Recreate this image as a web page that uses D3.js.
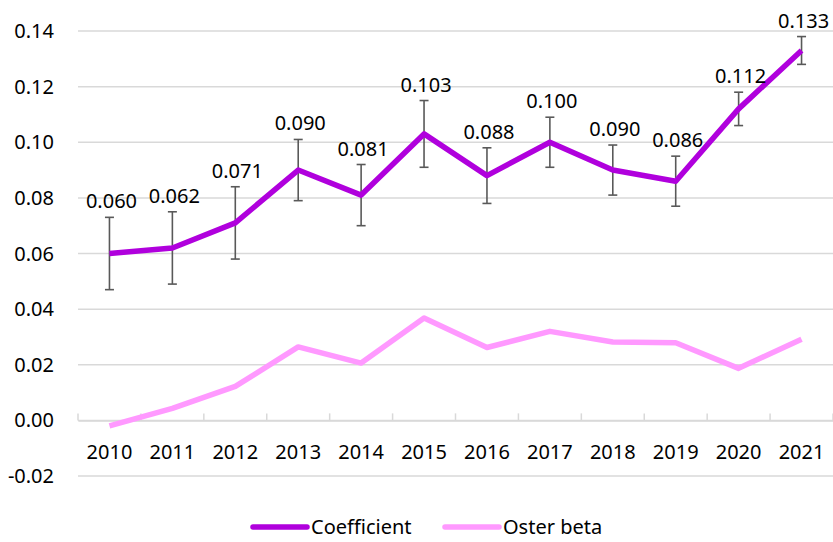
<!DOCTYPE html>
<html>
<head>
<meta charset="utf-8">
<script src="https://cdn.jsdelivr.net/npm/d3@7"></script>
<style>
  body { margin: 0; background: #fff; }
  svg text { font-family: "Noto Sans", "Open Sans", sans-serif; fill: #000; }
</style>
</head>
<body>
<svg id="chart" width="833" height="542"></svg>
<script>
const years = ["2010", "2011", "2012", "2013", "2014", "2015", "2016", "2017", "2018", "2019", "2020", "2021"];
const coefficient = [0.060, 0.062, 0.071, 0.090, 0.081, 0.103, 0.088, 0.100, 0.090, 0.086, 0.112, 0.133];
const errorMargin = [0.013, 0.013, 0.013, 0.011, 0.011, 0.012, 0.010, 0.009, 0.009, 0.009, 0.006, 0.005];
const osterBeta = [-0.002, 0.0043, 0.0122, 0.0264, 0.0206, 0.0368, 0.0262, 0.0320, 0.0282, 0.0279, 0.0187, 0.0292];
const yTicks = [-0.02, 0, 0.02, 0.04, 0.06, 0.08, 0.10, 0.12, 0.14];

const svg = d3.select("#chart");
const plotLeft = 78, plotRight = 833, plotTop = 31, plotBottom = 476;
const fontSize = 20;

const x = d3.scaleBand().domain(years).range([plotLeft, plotRight]);
const y = d3.scaleLinear().domain([-0.02, 0.14]).range([plotBottom, plotTop]);
const cx = d => x(d) + x.bandwidth() / 2;

// gridlines
svg.append("g").selectAll("line").data(yTicks).enter().append("line")
  .attr("x1", plotLeft).attr("x2", plotRight)
  .attr("y1", d => y(d)).attr("y2", d => y(d))
  .attr("stroke", "#d9d9d9").attr("stroke-width", 1.5);

// y labels (plain hyphen for negatives, like the original)
svg.append("g").selectAll("text").data(yTicks).enter().append("text")
  .attr("x", 54).attr("y", d => y(d)).attr("dy", "0.35em")
  .attr("text-anchor", "end").attr("font-size", fontSize)
  .text(d => d.toFixed(2));

// category axis at zero with ticks going up
const xAxis = d3.axisTop(x).tickSize(0).tickFormat("");
svg.append("g").attr("transform", `translate(0,${y(0)})`).call(xAxis)
  .call(g => g.select(".domain").attr("stroke", "#d9d9d9").attr("stroke-width", 1.5));
const bounds = years.map(d => x(d)).concat([plotRight]);
svg.append("g").selectAll("line").data(bounds).enter().append("line")
  .attr("x1", d => d).attr("x2", d => d)
  .attr("y1", y(0)).attr("y2", y(0) - 7)
  .attr("stroke", "#d9d9d9").attr("stroke-width", 1.5);

svg.append("g").selectAll("text").data(years).enter().append("text")
  .attr("x", d => cx(d)).attr("y", 452).attr("dy", "0.35em")
  .attr("text-anchor", "middle").attr("font-size", fontSize)
  .text(d => d);

// Oster beta line
const line = d3.line().x((d, i) => cx(years[i])).y(d => y(d));
svg.append("path").datum(osterBeta)
  .attr("d", line).attr("fill", "none")
  .attr("stroke", "#ff99ff").attr("stroke-width", 5.5).attr("stroke-linejoin", "round");

// error bars
const eb = svg.append("g").attr("stroke", "#595959").attr("stroke-width", 1.6);
years.forEach((yr, i) => {
  const lo = y(coefficient[i] - errorMargin[i]);
  const hi = y(coefficient[i] + errorMargin[i]);
  eb.append("line").attr("x1", cx(yr)).attr("x2", cx(yr)).attr("y1", lo).attr("y2", hi);
  eb.append("line").attr("x1", cx(yr) - 4.5).attr("x2", cx(yr) + 4.5).attr("y1", lo).attr("y2", lo);
  eb.append("line").attr("x1", cx(yr) - 4.5).attr("x2", cx(yr) + 4.5).attr("y1", hi).attr("y2", hi);
});

// Coefficient line
svg.append("path").datum(coefficient)
  .attr("d", line).attr("fill", "none")
  .attr("stroke", "#b000dd").attr("stroke-width", 5.5).attr("stroke-linejoin", "round");

// data labels
svg.append("g").selectAll("text").data(coefficient).enter().append("text")
  .attr("x", (d, i) => cx(years[i]) + 2)
  .attr("y", (d, i) => y(d + errorMargin[i]) - 9)
  .attr("text-anchor", "middle").attr("font-size", fontSize)
  .text(d => d.toFixed(3));

// legend
const legend = [
  { name: "Coefficient", color: "#b000dd", x: 253 },
  { name: "Oster beta", color: "#ff99ff", x: 445 }
];
const lg = svg.append("g");
legend.forEach(l => {
  lg.append("line").attr("x1", l.x).attr("x2", l.x + 54).attr("y1", 527).attr("y2", 527)
    .attr("stroke", l.color).attr("stroke-width", 5.5).attr("stroke-linecap", "round");
  lg.append("text").attr("x", l.x + 58).attr("y", 527).attr("dy", "0.35em")
    .attr("font-size", fontSize).text(l.name);
});
</script>
</body>
</html>
